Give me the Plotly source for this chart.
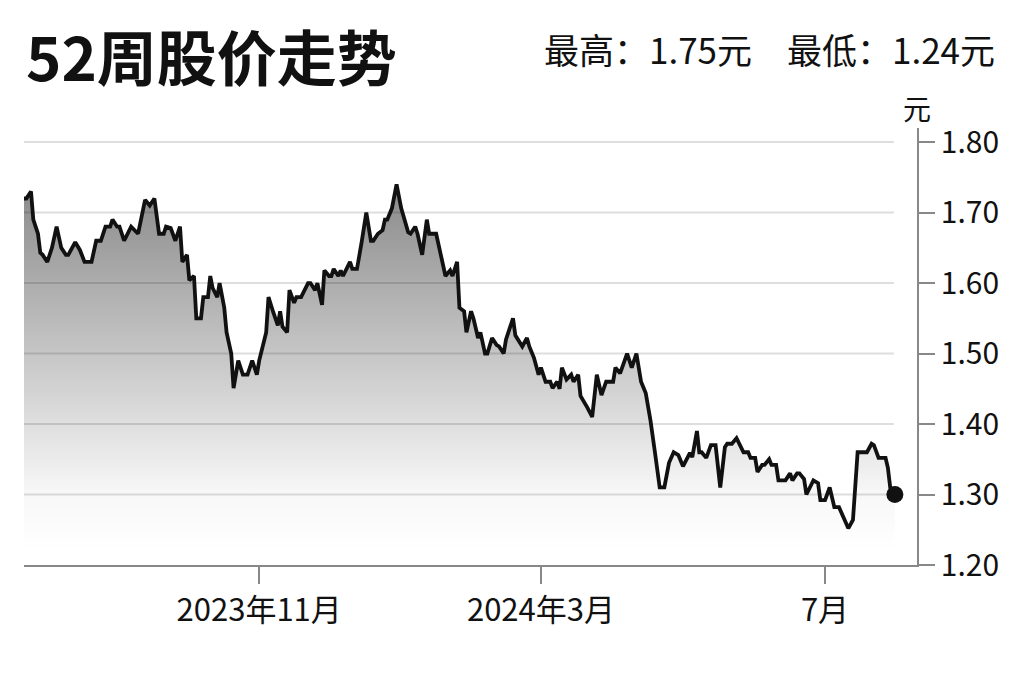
import plotly.graph_objects as go

dates = [
    "2023-07-23", "2023-07-24", "2023-07-26", "2023-07-27", "2023-07-29", "2023-07-30", "2023-07-31",
    "2023-08-02", "2023-08-04", "2023-08-06", "2023-08-08", "2023-08-10", "2023-08-11", "2023-08-14",
    "2023-08-16", "2023-08-18", "2023-08-21", "2023-08-23", "2023-08-25", "2023-08-27", "2023-08-29",
    "2023-08-30", "2023-09-01", "2023-09-02", "2023-09-04", "2023-09-06", "2023-09-07", "2023-09-10",
    "2023-09-13", "2023-09-15", "2023-09-17", "2023-09-19", "2023-09-21", "2023-09-22", "2023-09-24",
    "2023-09-26", "2023-09-28", "2023-09-29", "2023-10-01", "2023-10-02", "2023-10-04", "2023-10-05",
    "2023-10-07", "2023-10-08", "2023-10-10", "2023-10-11", "2023-10-12", "2023-10-14", "2023-10-15",
    "2023-10-17", "2023-10-18", "2023-10-20", "2023-10-21", "2023-10-23", "2023-10-25", "2023-10-27",
    "2023-10-29", "2023-10-31", "2023-11-01", "2023-11-04", "2023-11-05", "2023-11-07", "2023-11-09",
    "2023-11-10", "2023-11-11", "2023-11-13", "2023-11-14", "2023-11-16", "2023-11-17", "2023-11-19",
    "2023-11-22", "2023-11-23", "2023-11-25", "2023-11-26", "2023-11-28", "2023-11-29", "2023-12-01",
    "2023-12-02", "2023-12-03", "2023-12-05", "2023-12-06", "2023-12-07", "2023-12-10", "2023-12-11",
    "2023-12-13", "2023-12-15", "2023-12-17", "2023-12-19", "2023-12-20", "2023-12-22", "2023-12-24",
    "2023-12-25", "2023-12-26", "2023-12-28", "2023-12-30", "2024-01-01", "2024-01-04", "2024-01-05",
    "2024-01-07", "2024-01-08", "2024-01-10", "2024-01-12", "2024-01-13", "2024-01-16", "2024-01-18",
    "2024-01-20", "2024-01-22", "2024-01-23", "2024-01-25", "2024-01-26", "2024-01-28", "2024-01-29",
    "2024-01-31", "2024-02-01", "2024-02-03", "2024-02-04", "2024-02-06", "2024-02-07", "2024-02-09",
    "2024-02-11", "2024-02-12", "2024-02-14", "2024-02-15", "2024-02-18", "2024-02-19", "2024-02-22",
    "2024-02-24", "2024-02-25", "2024-02-27", "2024-02-29", "2024-03-01", "2024-03-03", "2024-03-05",
    "2024-03-06", "2024-03-08", "2024-03-09", "2024-03-10", "2024-03-12", "2024-03-14", "2024-03-15",
    "2024-03-17", "2024-03-18", "2024-03-21", "2024-03-23", "2024-03-25", "2024-03-26", "2024-03-27",
    "2024-03-29", "2024-04-01", "2024-04-02", "2024-04-04", "2024-04-07", "2024-04-09", "2024-04-11",
    "2024-04-13", "2024-04-15", "2024-04-17", "2024-04-19", "2024-04-21", "2024-04-23", "2024-04-25",
    "2024-04-27", "2024-04-29", "2024-05-01", "2024-05-03", "2024-05-04", "2024-05-05", "2024-05-07",
    "2024-05-08", "2024-05-09", "2024-05-11", "2024-05-13", "2024-05-15", "2024-05-17", "2024-05-19",
    "2024-05-20", "2024-05-22", "2024-05-24", "2024-05-27", "2024-05-29", "2024-05-30", "2024-06-01",
    "2024-06-02", "2024-06-04", "2024-06-05", "2024-06-07", "2024-06-08", "2024-06-10", "2024-06-11",
    "2024-06-14", "2024-06-16", "2024-06-17", "2024-06-19", "2024-06-20", "2024-06-22", "2024-06-23",
    "2024-06-26", "2024-06-28", "2024-06-29", "2024-07-01", "2024-07-03", "2024-07-05", "2024-07-07",
    "2024-07-09", "2024-07-11", "2024-07-13", "2024-07-14", "2024-07-15", "2024-07-17", "2024-07-19",
    "2024-07-21", "2024-07-22", "2024-07-24", "2024-07-27", "2024-07-28", "2024-07-29", "2024-07-31",
]

prices = [
    1.72, 1.72, 1.73, 1.69, 1.67, 1.643, 1.64,
    1.63, 1.65, 1.68, 1.65, 1.64, 1.64, 1.658,
    1.647, 1.63, 1.63, 1.66, 1.66, 1.68, 1.68,
    1.69, 1.68, 1.68, 1.66, 1.675, 1.68, 1.67,
    1.718, 1.71, 1.72, 1.67, 1.67, 1.68, 1.678,
    1.66, 1.68, 1.63, 1.64, 1.604, 1.61, 1.55,
    1.55, 1.58, 1.58, 1.61, 1.593, 1.58, 1.60,
    1.565, 1.53, 1.50, 1.451, 1.49, 1.47, 1.47,
    1.49, 1.47, 1.49, 1.53, 1.58, 1.559, 1.54,
    1.56, 1.538, 1.53, 1.59, 1.572, 1.58, 1.58,
    1.60, 1.60, 1.59, 1.60, 1.569, 1.618, 1.61,
    1.61, 1.62, 1.61, 1.618, 1.61, 1.63, 1.62,
    1.62, 1.658, 1.70, 1.66, 1.66, 1.67, 1.675,
    1.69, 1.69, 1.706, 1.74, 1.706, 1.672, 1.67,
    1.68, 1.67, 1.64, 1.69, 1.67, 1.67, 1.64,
    1.61, 1.618, 1.61, 1.63, 1.565, 1.56, 1.53,
    1.56, 1.55, 1.522, 1.53, 1.50, 1.50, 1.522,
    1.512, 1.51, 1.50, 1.52, 1.55, 1.526, 1.51,
    1.522, 1.51, 1.494, 1.47, 1.48, 1.46, 1.46,
    1.451, 1.46, 1.45, 1.48, 1.463, 1.47, 1.46,
    1.47, 1.44, 1.423, 1.41, 1.47, 1.452, 1.441,
    1.46, 1.46, 1.48, 1.472, 1.50, 1.48, 1.50,
    1.46, 1.444, 1.406, 1.359, 1.31, 1.31, 1.345,
    1.36, 1.356, 1.34, 1.353, 1.359, 1.353, 1.39,
    1.36, 1.36, 1.352, 1.37, 1.37, 1.31, 1.367,
    1.372, 1.372, 1.38, 1.36, 1.36, 1.352, 1.352,
    1.332, 1.342, 1.342, 1.35, 1.342, 1.342, 1.32,
    1.32, 1.33, 1.32, 1.33, 1.33, 1.322, 1.30,
    1.32, 1.316, 1.292, 1.292, 1.31, 1.282, 1.282,
    1.268, 1.252, 1.264, 1.31, 1.36, 1.36, 1.36,
    1.372, 1.37, 1.352, 1.352, 1.338, 1.31, 1.30,
]

y_ticks = [1.20, 1.30, 1.40, 1.50, 1.60, 1.70, 1.80]
y_tick_text = ["1.20", "1.30", "1.40", "1.50", "1.60", "1.70", "1.80"]
x_ticks = ["2023-11-01", "2024-03-01", "2024-07-01"]
x_tick_text = ["2023年11月", "2024年3月", "7月"]

title_text = "52周股价走势"
high_low_text = "最高：1.75元　最低：1.24元"
unit_text = "元"

FONT = "Noto Sans CJK SC"

fig = go.Figure()

fig.add_trace(go.Scatter(
    x=dates, y=prices, mode="lines",
    line=dict(color="#111111", width=3.8),
    fill="tozeroy",
    fillgradient=dict(
        type="vertical",
        colorscale=[[0, "rgba(0,0,0,0)"], [0.15, "rgba(0,0,0,0.03)"], [1, "rgba(0,0,0,0.48)"]],
        start=1.22, stop=1.76,
    ),
    hoverinfo="skip", showlegend=False,
))

fig.add_trace(go.Scatter(
    x=[dates[-1]], y=[prices[-1]], mode="markers",
    marker=dict(color="#111111", size=17),
    hoverinfo="skip", showlegend=False,
))

shapes = []
for v in y_ticks[1:]:
    shapes.append(dict(type="line", xref="paper", yref="y", x0=0, x1=0.974, y0=v, y1=v,
                       line=dict(color="#dedede", width=2), layer="below"))

fig.update_layout(
    width=1024, height=682,
    margin=dict(l=16, r=115, t=120, b=125),
    paper_bgcolor="white", plot_bgcolor="white",
    font=dict(family=FONT, color="#111111"),
    shapes=shapes,
    xaxis=dict(
        range=["2023-07-23", "2024-08-09 12:00"],
        tickvals=x_ticks, ticktext=x_tick_text,
        showgrid=False, zeroline=False,
        showline=True, linecolor="#888888", linewidth=1.5,
        ticks="outside", ticklen=17, tickwidth=1.5, tickcolor="#888888",
        tickfont=dict(family=FONT, size=31, color="#111111"),
    ),
    yaxis=dict(
        range=[1.20, 1.82], side="right",
        tickvals=y_ticks, ticktext=y_tick_text,
        showgrid=False, zeroline=False,
        showline=True, linecolor="#888888", linewidth=1.5,
        ticks="outside", ticklen=16, tickwidth=1.5, tickcolor="#888888",
        tickfont=dict(family=FONT, size=30, color="#111111"),
    ),
    annotations=[
        dict(text="<b>" + title_text + "</b>", xref="paper", yref="paper", x=0, y=1.168,
             xanchor="left", yanchor="middle", showarrow=False,
             font=dict(family=FONT, size=60, color="#111111")),
        dict(text=high_low_text, xref="paper", yref="paper", x=1.0896, y=1.182,
             xanchor="right", yanchor="middle", showarrow=False,
             font=dict(family=FONT, size=35, color="#111111")),
        dict(text=unit_text, xref="paper", yref="paper", x=1.0, y=1.046,
             xanchor="center", yanchor="middle", showarrow=False,
             font=dict(family=FONT, size=28, color="#111111")),
    ],
)

fig.write_html("out.html")
